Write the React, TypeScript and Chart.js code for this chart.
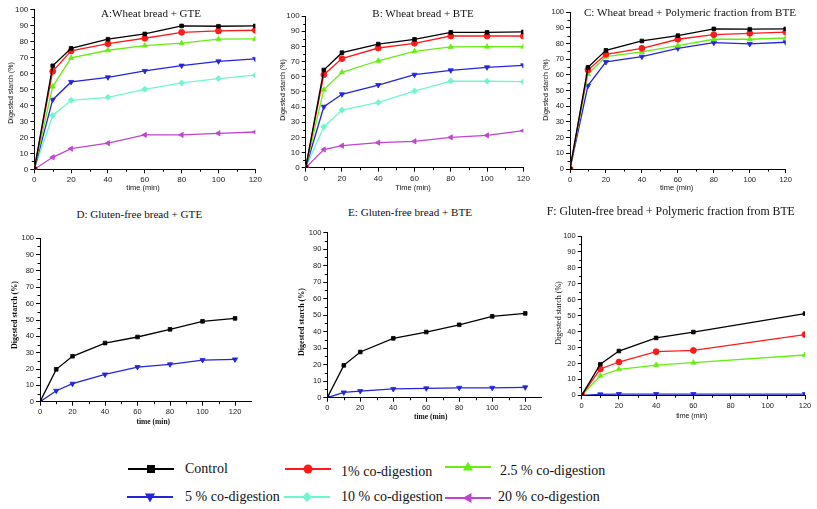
import React, { useEffect, useRef } from "react";
import { Chart, registerables } from "chart.js";
Chart.register(...registerables);

// ---------- data ----------
const timeWheat = [0, 10, 20, 40, 60, 80, 100, 120];
const timeGF = [0, 10, 20, 40, 60, 120];

const seriesLabels = ["Control", "1% co-digestion", "2.5 % co-digestion", "5 % co-digestion", "10 % co-digestion", "20 % co-digestion"];

// A: Wheat bread + GTE
const aControl = [0, 64.7, 75.6, 81.3, 84.6, 89.6, 89.4, 89.6];
const a1 = [0, 61.3, 74, 78.5, 81.9, 85.6, 86.5, 86.9];
const a25 = [0, 51.7, 69.6, 74.4, 77.3, 78.8, 81.3, 81.5];
const a5 = [0, 43.5, 54.6, 57.5, 61.5, 64.8, 67.5, 69];
const a10 = [0, 33.7, 43.1, 45, 50, 54, 56.7, 58.8];
const a20 = [0, 7.5, 12.9, 16.3, 21.5, 21.5, 22.5, 23.3];

// B: Wheat bread + BTE
const bControl = [0, 64.4, 75.8, 81.5, 84.6, 89.2, 89.2, 89.5];
const b1 = [0, 61.3, 71.9, 78.9, 82, 86.8, 86.8, 86.8];
const b25 = [0, 51.4, 62.9, 70.5, 76.7, 79.6, 79.8, 79.8];
const b5 = [0, 40.2, 48.4, 54.5, 61.3, 64.2, 66.2, 67.5];
const b10 = [0, 27, 38, 43, 50.5, 57.1, 57, 56.7];
const b20 = [0, 12, 14.5, 16.5, 17.4, 20, 21.3, 24.4];

// C: Wheat bread + Polymeric fraction from BTE
const cControl = [0, 64.9, 75.7, 81.7, 85.1, 89.4, 89.2, 89.4];
const c1 = [0, 63.2, 73.2, 77, 82.8, 85.7, 86.6, 87.4];
const c25 = [0, 60.6, 71.7, 74.7, 78.7, 82.8, 82.8, 83.6];
const c5 = [0, 53.2, 68.3, 71.7, 77, 80.6, 79.8, 80.9];

// D: Gluten-free bread + GTE
const dControl = [0, 19.8, 27.8, 35.9, 39.6, 44.3, 49.2, 51];
const d5 = [0, 6.7, 11, 16.7, 21.2, 22.9, 25.5, 25.9];

// E: Gluten-free bread + BTE
const eControl = [0, 19.6, 27.7, 36, 39.8, 44.2, 49.3, 51.1];
const e5 = [0, 3.2, 4, 5.3, 5.7, 6, 6, 6.3];

// F: Gluten-free bread + Polymeric fraction from BTE
const fControl = [0, 19.5, 27.8, 36, 39.7, 51.3];
const f1 = [0, 16.5, 20.9, 27.4, 28.2, 38.1];
const f25 = [0, 12.3, 16.3, 19, 20.5, 25.3];
const f5 = [0, 0.6, 0.8, 0.8, 0.8, 0.8];

const yTicksMax = 100;

// ---------- styles ----------
const STYLES = [
  { color: "#000000", point: "rect", rot: 0 },
  { color: "#ff1a1a", point: "circle", rot: 0 },
  { color: "#66ee11", point: "triangle", rot: 0 },
  { color: "#2424dd", point: "triangle", rot: 180 },
  { color: "#6ff5cf", point: "rectRot", rot: 0 },
  { color: "#c044d0", point: "triangle", rot: -90 },
];

type Box = { l: number; r: number; t: number; b: number };

const minorTicks = {
  id: "minorTicks",
  afterDraw(chart: any) {
    const ctx = chart.ctx;
    ctx.save();
    ctx.strokeStyle = "#000";
    ctx.lineWidth = 1;
    const xs = chart.scales.x;
    const ys = chart.scales.y;
    const xt = xs.ticks.map((t: any) => t.value);
    const yt = ys.ticks.map((t: any) => t.value);
    for (let i = 0; i < xt.length - 1; i++) {
      const v = (xt[i] + xt[i + 1]) / 2;
      const px = Math.round(xs.getPixelForValue(v)) + 0.5;
      ctx.beginPath();
      ctx.moveTo(px, ys.bottom);
      ctx.lineTo(px, ys.bottom + 2.5);
      ctx.stroke();
    }
    for (let i = 0; i < yt.length - 1; i++) {
      const v = (yt[i] + yt[i + 1]) / 2;
      const py = Math.round(ys.getPixelForValue(v)) + 0.5;
      ctx.beginPath();
      ctx.moveTo(xs.left, py);
      ctx.lineTo(xs.left - 2.5, py);
      ctx.stroke();
    }
    ctx.restore();
  },
};

function Panel(props: { box: Box; xMax: number; times: number[]; series: number[][]; styleIdx: number[]; tickFont: number }) {
  const ref = useRef<HTMLCanvasElement>(null);
  const { box, xMax, times, series, styleIdx, tickFont } = props;
  const cl = Math.floor(box.l) - 30;
  const ct = Math.floor(box.t) - 8;
  const cr = Math.ceil(box.r) + 14;
  const cb = Math.ceil(box.b) + 18;
  const W = cr - cl;
  const H = cb - ct;
  useEffect(() => {
    const yW = box.l - cl;
    const xH = cb - box.b;
    const chart = new Chart(ref.current as HTMLCanvasElement, {
      type: "line",
      data: {
        datasets: series.map((vals, i) => {
          const st = STYLES[styleIdx[i]];
          return {
            label: seriesLabels[styleIdx[i]],
            data: vals.map((v, k) => ({ x: times[k], y: v })),
            borderColor: st.color,
            backgroundColor: st.color,
            borderWidth: 1.3,
            pointStyle: st.point as any,
            rotation: st.rot,
            pointRadius: st.point === "rect" ? 2.6 : 3,
            pointBorderWidth: 0.8,
            tension: 0,
          };
        }),
      },
      options: {
        responsive: false,
        animation: false,
        events: [],
        layout: { padding: { left: 0, top: box.t - ct, right: cr - box.r, bottom: 0 } },
        plugins: { legend: { display: false }, tooltip: { enabled: false }, title: { display: false } },
        scales: {
          x: {
            type: "linear",
            min: 0,
            max: xMax,
            afterFit: (s: any) => { s.height = xH; },
            afterBuildTicks: (s: any) => {
              const arr = [];
              for (let v = 0; v <= 120; v += 20) arr.push({ value: v });
              s.ticks = arr;
            },
            grid: { display: true, drawOnChartArea: false, drawTicks: true, tickLength: 4, color: "#000", lineWidth: 1 },
            border: { display: true, color: "#000", width: 1 },
            ticks: { color: "#222", font: { family: "Liberation Sans, Arial, sans-serif", size: tickFont }, padding: 2, maxRotation: 0, autoSkip: false },
          },
          y: {
            type: "linear",
            min: 0,
            max: yTicksMax,
            afterFit: (s: any) => { s.width = yW; },
            grid: { display: true, drawOnChartArea: false, drawTicks: true, tickLength: 4, color: "#000", lineWidth: 1 },
            border: { display: true, color: "#000", width: 1 },
            ticks: { stepSize: 10, color: "#222", font: { family: "Liberation Sans, Arial, sans-serif", size: tickFont }, padding: 2, autoSkip: false },
          },
        },
      },
      plugins: [minorTicks],
    });
    return () => chart.destroy();
  }, []);
  return (
    <canvas
      ref={ref}
      width={W}
      height={H}
      style={{ position: "absolute", left: cl, top: ct, width: W, height: H }}
    />
  );
}

function Label(props: { text: string; x: number; y: number; size: number; family: string; bold?: boolean; vertical?: boolean }) {
  const { text, x, y, size, family, bold, vertical } = props;
  return (
    <div
      style={{
        position: "absolute",
        left: x,
        top: y,
        transform: `translate(-50%, -50%)${vertical ? " rotate(-90deg)" : ""}`,
        fontFamily: family,
        fontSize: size,
        fontWeight: bold ? "bold" : "normal",
        whiteSpace: "nowrap",
        lineHeight: 1,
        color: "#111",
      }}
    >
      {text}
    </div>
  );
}

function Marker(props: { idx: number }) {
  const st = STYLES[props.idx];
  const cx = 23, cy = 7;
  let shape: any = null;
  if (st.point === "rect") shape = <rect x={cx - 4} y={cy - 4} width={8} height={8} fill={st.color} />;
  else if (st.point === "circle") shape = <circle cx={cx} cy={cy} r={4.5} fill={st.color} />;
  else if (st.point === "rectRot") shape = <polygon points={`${cx},${cy - 5} ${cx + 5},${cy} ${cx},${cy + 5} ${cx - 5},${cy}`} fill={st.color} />;
  else {
    const pts = [[0, -5.5], [5, 3.5], [-5, 3.5]];
    const a = (st.rot * Math.PI) / 180;
    const p = pts.map(([x, y]) => `${cx + x * Math.cos(a) - y * Math.sin(a)},${cy + x * Math.sin(a) + y * Math.cos(a)}`).join(" ");
    shape = <polygon points={p} fill={st.color} />;
  }
  return (
    <svg width={46} height={14} style={{ display: "block" }}>
      <line x1={0} y1={cy} x2={46} y2={cy} stroke={st.color} strokeWidth={2} />
      {shape}
    </svg>
  );
}

const legendPos = [
  { lx: 128, ly: 469, tx: 185, ty: 469 },
  { lx: 285, ly: 469, tx: 341, ty: 472 },
  { lx: 445, ly: 467, tx: 500, ty: 471 },
  { lx: 127, ly: 497, tx: 185, ty: 497 },
  { lx: 284, ly: 497, tx: 341, ty: 497 },
  { lx: 445, ly: 498, tx: 498, ty: 497 },
];

export default function App() {
  const serif = "'Liberation Serif', 'Times New Roman', serif";
  const sans = "'Liberation Sans', Arial, sans-serif";
  return (
    <div style={{ position: "absolute", left: 0, top: 0, width: 817, height: 509, background: "#fff", overflow: "hidden" }}>
      <Panel box={{ l: 34.3, r: 255.3, t: 9.3, b: 169.3 }} xMax={120} times={timeWheat} series={[aControl, a1, a25, a5, a10, a20]} styleIdx={[0, 1, 2, 3, 4, 5]} tickFont={8} />
      <Panel box={{ l: 305.7, r: 523.3, t: 16, b: 167.7 }} xMax={120} times={timeWheat} series={[bControl, b1, b25, b5, b10, b20]} styleIdx={[0, 1, 2, 3, 4, 5]} tickFont={8} />
      <Panel box={{ l: 570, r: 785.7, t: 12.3, b: 169 }} xMax={120} times={timeWheat} series={[cControl, c1, c25, c5]} styleIdx={[0, 1, 2, 3]} tickFont={7.5} />
      <Panel box={{ l: 40, r: 251.3, t: 238.3, b: 401.7 }} xMax={130} times={timeWheat} series={[dControl, d5]} styleIdx={[0, 3]} tickFont={7.5} />
      <Panel box={{ l: 327.3, r: 541.7, t: 232.7, b: 397.7 }} xMax={130} times={timeWheat} series={[eControl, e5]} styleIdx={[0, 3]} tickFont={7.5} />
      <Panel box={{ l: 581.7, r: 805, t: 236, b: 395.3 }} xMax={120} times={timeGF} series={[fControl, f1, f25, f5]} styleIdx={[0, 1, 2, 3]} tickFont={7.5} />

      <Label text="A:Wheat bread + GTE" x={151} y={13.3} size={11} family={serif} />
      <Label text="B: Wheat bread + BTE" x={423} y={13} size={11} family={serif} />
      <Label text="C: Wheat bread + Polymeric fraction from BTE" x={690} y={13} size={11.1} family={serif} />
      <Label text="D: Gluten-free bread + GTE" x={139.3} y={215} size={11.1} family={serif} />
      <Label text="E: Gluten-free bread + BTE" x={410} y={213.3} size={11.1} family={serif} />
      <Label text="F: Gluten-free bread + Polymeric fraction from BTE" x={670.8} y={212} size={11.8} family={serif} />

      <Label text="Digested starch (%)" x={10} y={93} size={7} family={sans} vertical />
      <Label text="Digested starch (%)" x={282.3} y={90} size={7} family={sans} vertical />
      <Label text="Digested starch (%)" x={545} y={90} size={7} family={sans} vertical />
      <Label text="Digested starch (%)" x={15} y={315} size={8} family={serif} bold vertical />
      <Label text="Digested starch (%)" x={301.7} y={321.7} size={8} family={serif} bold vertical />
      <Label text="Digested starch (%)" x={559.3} y={313.3} size={8} family={serif} vertical />

      <Label text="time (min)" x={143} y={188} size={7.5} family={sans} />
      <Label text="Time (min)" x={413} y={188} size={7.5} family={sans} />
      <Label text="time (min)" x={676.7} y={188} size={7.5} family={sans} />
      <Label text="time (min)" x={153.3} y={421.7} size={7.5} family={serif} bold />
      <Label text="time (min)" x={430.7} y={416.7} size={7.5} family={serif} bold />
      <Label text="time (min)" x={691.7} y={415} size={7} family={sans} />

      {legendPos.map((p, i) => (
        <React.Fragment key={i}>
          <div style={{ position: "absolute", left: p.lx, top: p.ly - 7 }}>
            <Marker idx={i} />
          </div>
          <div
            style={{
              position: "absolute",
              left: p.tx,
              top: p.ty,
              transform: "translateY(-50%)",
              fontFamily: serif,
              fontSize: 14,
              lineHeight: 1,
              whiteSpace: "nowrap",
              color: "#111",
            }}
          >
            {seriesLabels[i]}
          </div>
        </React.Fragment>
      ))}
    </div>
  );
}
